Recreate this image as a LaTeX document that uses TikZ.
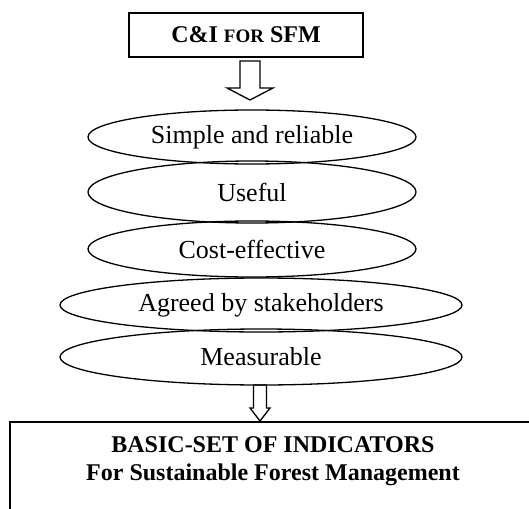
\documentclass[tikz,border=0pt]{standalone}
\usepackage{fontspec}
\setmainfont{Liberation Serif}
\usetikzlibrary{shapes.geometric,calc}
\begin{document}
\begin{tikzpicture}[x=1pt,y=-1pt,
  oval/.style={draw, ellipse, line width=1.3pt, inner sep=0pt, font=\fontsize{26}{30}\selectfont},
  blockarrow/.style={draw, line width=1.3pt, line join=miter},
  boxline/.style={draw, line width=2pt},
  boldtext/.style={font=\bfseries\fontsize{24}{28}\selectfont, align=center, inner sep=0pt}]
\useasboundingbox (0,0) rectangle (529,508);
\clip (0,0) rectangle (529,508);
% top box
\node[boxline, boldtext, minimum width=234pt, minimum height=44pt] (cis) at (246,35)
  {C\&I {\fontsize{19}{22}\selectfont FOR} SFM};
% ellipses
\node[oval, minimum width=328pt, minimum height=54pt] (e1) at (252,137) {Simple and reliable};
\node[oval, minimum width=328pt, minimum height=62pt] (e2) at (252,192) {Useful};
\node[oval, minimum width=328pt, minimum height=56pt] (e3) at (252,249) {Cost-effective};
\node[oval, minimum width=402pt, minimum height=54pt] (e4) at (261,305) {Agreed by stakeholders};
\node[oval, minimum width=402pt, minimum height=56pt] (e5) at (261,357) {Measurable};
% block arrow 1
\coordinate (a1) at (250,61);
\draw[blockarrow] ($(a1)+(-10,0)$) -- ++(0,27) -- ++(-13,0) -- ($(a1)+(0,39)$)
  -- ($(a1)+(23,27)$) -- ++(-13,0) -- ($(a1)+(10,0)$) -- cycle;
% block arrow 2
\coordinate (a2) at (260,385);
\draw[blockarrow] ($(a2)+(-6.5,0)$) -- ++(0,23) -- ++(-3.5,0) -- ($(a2)+(0,36)$)
  -- ($(a2)+(10,23)$) -- ++(-3.5,0) -- ($(a2)+(6.5,0)$) -- cycle;
% bottom box
\coordinate (bl) at (10,530);
\coordinate (tr) at (545,422);
\draw[boxline] (bl) |- (tr);
\node[boldtext] (basic) at (273,461)
  {BASIC-SET OF INDICATORS\\For Sustainable Forest Management};
\end{tikzpicture}
\end{document}
